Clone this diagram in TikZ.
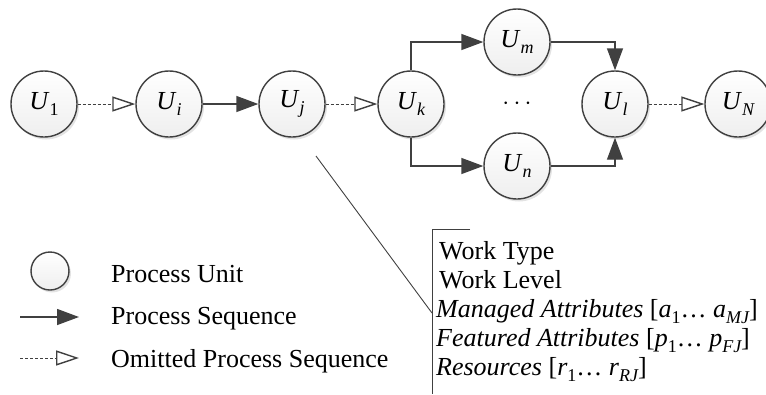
\documentclass[tikz,border=0pt]{standalone}
\usepackage{fontspec}
\setmainfont{Liberation Serif}
\usetikzlibrary{arrows.meta,shadows}
\definecolor{ln}{HTML}{404040}
\newcommand{\sbx}[1]{\raisebox{-0.26em}{\fontsize{18}{18}\selectfont #1}}
\newcommand{\Usub}[1]{\textit{U}\sbx{\itshape #1}}
\begin{document}
\begin{tikzpicture}[x=1pt,y=-1pt, font=\fontsize{26}{29}\selectfont,
  unit/.style={circle, draw=ln, line width=1.4pt, minimum size=66pt, inner sep=0pt,
    top color=white, bottom color=gray!13,
    drop shadow={shadow xshift=2pt,shadow yshift=-2.5pt,opacity=0.22}},
  seq/.style={draw=ln, line width=1.4pt, -{Triangle[length=22pt,width=16pt]}},
  omit/.style={draw=ln, line width=0.9pt, dash pattern=on 3pt off 2pt,
    -{Triangle[open,length=23pt,width=15pt,line width=1.4pt]}},
  thinl/.style={draw=ln, line width=0.9pt},
  txt/.style={anchor=base west, inner sep=0pt}]
\useasboundingbox (0,0) rectangle (766,394);
% units
\node[unit] (u1) at (44,104) {\textit{U}\sbx{1}};
\node[unit] (ui) at (169,104) {\Usub{i}};
\node[unit] (uj) at (292,104) {\Usub{j}};
\node[unit] (uk) at (411,104) {\Usub{k}};
\node[unit] (um) at (517,42) {\Usub{m}};
\node[unit] (un) at (517,166) {\Usub{n}};
\node[unit] (ul) at (615,104) {\Usub{l}};
\node[unit] (uN) at (738,104) {\Usub{N}};
\node (dots) at (517,104) {$\cdots$};
% connectors
\draw[omit] (u1) -- (ui);
\draw[seq] (ui) -- (uj);
\draw[omit] (uj) -- (uk);
\draw[seq] (uk.north) |- (um);
\draw[seq] (uk.south) |- (un);
\draw[seq] (um) -| (ul);
\draw[seq] (un) -| (ul);
\draw[omit] (ul) -- (uN);
% callout
\coordinate (c1) at (316,156);
\coordinate (c2) at (432,313);
\coordinate (bt) at (432,229);
\coordinate (bs) at (470,229);
\coordinate (bb) at (432,394);
\draw[thinl] (c1) -- (c2);
\draw[thinl] (bs) -- (bt) -- (bb);
\node[txt] (t1) at (439,259) {Work Type};
\node[txt] (t2) at (439,288) {Work Level};
\node[txt] (t3) at (436,317) {\textit{Managed Attributes} [\textit{a}\sbx{1}\ldots{} \textit{a}\sbx{\itshape MJ}]};
\node[txt] (t4) at (436,346) {\textit{Featured Attributes} [\textit{p}\sbx{1}\ldots{} \textit{p}\sbx{\itshape FJ}]};
\node[txt] (t5) at (436,375) {\textit{Resources} [\textit{r}\sbx{1}\ldots{} \textit{r}\sbx{\itshape RJ}]};
% legend
\node[unit, minimum size=38pt] (lg) at (50,271) {};
\node[txt] (l1) at (111,282) {Process Unit};
\coordinate (ls1) at (20,317);
\coordinate (ls2) at (79,317);
\draw[seq] (ls1) -- (ls2);
\node[txt] (l2) at (111,324) {Process Sequence};
\coordinate (lo1) at (20,358);
\coordinate (lo2) at (79,358);
\draw[omit] (lo1) -- (lo2);
\node[txt] (l3) at (111,367) {Omitted Process Sequence};
\end{tikzpicture}
\end{document}
